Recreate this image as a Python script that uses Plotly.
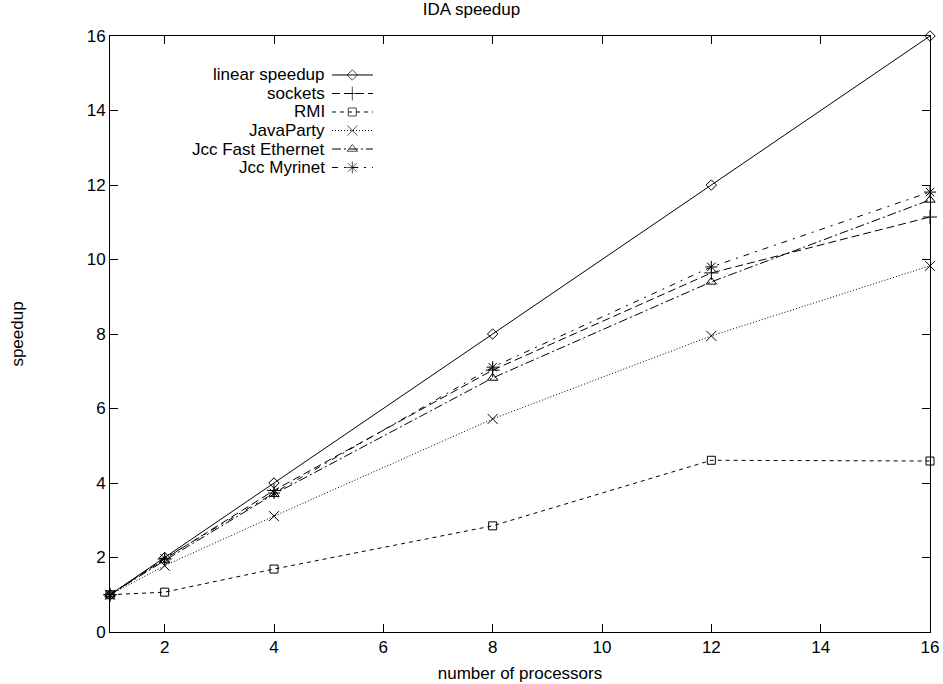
import plotly.graph_objects as go

processors = [1, 2, 4, 8, 12, 16]
linear_speedup = [1, 2, 4, 8, 12, 16]
sockets = [1, 1.96, 3.80, 7.03, 9.64, 11.14]
rmi = [1, 1.07, 1.69, 2.85, 4.61, 4.59]
javaparty = [1, 1.78, 3.11, 5.72, 7.95, 9.83]
jcc_fast_ethernet = [1, 1.92, 3.70, 6.82, 9.40, 11.60]
jcc_myrinet = [1, 1.98, 3.73, 7.11, 9.80, 11.81]

series_names = ["linear speedup", "sockets", "RMI", "JavaParty",
                "Jcc Fast Ethernet", "Jcc Myrinet"]
series_values = [linear_speedup, sockets, rmi, javaparty,
                 jcc_fast_ethernet, jcc_myrinet]
symbols = ["diamond-open", "cross-thin-open", "square-open", "x-thin-open",
           "triangle-up-open", "asterisk-open"]
dashes = ["solid", "8px,4px", "4px,4px", "1px,2px", "9px,3px,2px,3px",
          "6px,6px,2px,6px"]
sizes = [8, 10, 8, 10, 9, 10]

FONT = "Liberation Sans, Arial, Helvetica, sans-serif"
FS = 17

fig = go.Figure()
for name, vals, sym, dash, sz in zip(series_names, series_values, symbols, dashes, sizes):
    fig.add_trace(go.Scatter(
        x=processors, y=vals, mode="lines+markers", name=name,
        line=dict(color="black", width=1, dash=dash),
        marker=dict(symbol=sym, size=sz, color="black",
                    line=dict(color="black", width=1)),
        showlegend=False, cliponaxis=False,
    ))

# manual gnuplot-style legend (text left, sample right)
row_y = [0.9346, 0.9035, 0.8725, 0.8414, 0.8104, 0.7794]
for name, sym, dash, sz, ry in zip(series_names, symbols, dashes, sizes, row_y):
    fig.add_trace(go.Scatter(
        x=[0.2707, 0.2955, 0.3207], y=[ry, ry, ry], mode="lines+markers",
        line=dict(color="black", width=1, dash=dash),
        marker=dict(symbol=sym, size=[0, sz, 0], color="black",
                    line=dict(color="black", width=1)),
        xaxis="x2", yaxis="y2", showlegend=False, hoverinfo="skip",
    ))
    fig.add_annotation(x=0.2646, y=ry, xref="paper", yref="paper", text=name,
                       showarrow=False, xanchor="right", yanchor="middle",
                       font=dict(family=FONT, size=FS, color="black"))

fig.update_layout(
    width=943, height=684, autosize=False,
    margin=dict(l=110, r=13, t=36, b=52, autoexpand=False),
    paper_bgcolor="white", plot_bgcolor="white",
    font=dict(family=FONT, size=FS, color="black"),
    title=dict(text="IDA speedup", x=0.5, xref="container", xanchor="center",
               y=1 - 9 / 684, yref="container", yanchor="middle",
               font=dict(family=FONT, size=FS, color="black")),
    xaxis=dict(range=[1, 16], tick0=2, dtick=2, ticks="inside", ticklen=8,
               tickcolor="black", showline=True, linecolor="black", linewidth=1,
               mirror="ticks", showgrid=False, zeroline=False, automargin=False,
               tickfont=dict(family=FONT, size=FS),
               title=dict(text="number of processors", standoff=10,
                          font=dict(family=FONT, size=FS))),
    yaxis=dict(range=[0, 16], dtick=2, ticks="inside", ticklen=8,
               tickcolor="black", showline=True, linecolor="black", linewidth=1,
               mirror="ticks", showgrid=False, zeroline=False, automargin=False,
               tickfont=dict(family=FONT, size=FS),
               title=dict(text="speedup", standoff=58,
                          font=dict(family=FONT, size=FS))),
    xaxis2=dict(range=[0, 1], overlaying="x", visible=False, fixedrange=True),
    yaxis2=dict(range=[0, 1], overlaying="y", visible=False, fixedrange=True),
)

fig.write_html("out.html", config={"displayModeBar": False},
               post_script="document.body.style.margin='0';")
